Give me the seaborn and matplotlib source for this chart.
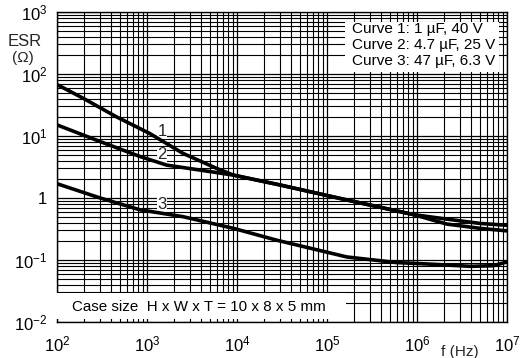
import numpy as np
import pandas as pd
import matplotlib
matplotlib.use("Agg")
import matplotlib.pyplot as plt
import seaborn as sns
from matplotlib.patches import Rectangle
from matplotlib.ticker import FixedLocator, FixedFormatter

# ---- data ----
f1 = [100, 195, 457, 1070, 2510, 5890, 9120, 30200, 166000, 912000, 2140000, 5010000, 1e7]
esr1 = [67.6, 40.7, 20.4, 11.0, 5.25, 3.02, 2.34, 1.62, 0.93, 0.54, 0.457, 0.389, 0.363]

f2 = [100, 302, 832, 1660, 3890, 9120, 30200, 166000, 912000, 2140000, 5010000, 1e7]
esr2 = [15.1, 8.13, 4.68, 3.39, 2.82, 2.34, 1.62, 0.93, 0.54, 0.38, 0.324, 0.295]

f3 = [100, 302, 832, 2510, 9120, 27500, 166000, 589000, 1580000, 3980000, 7080000, 1e7]
esr3 = [1.70, 1.0, 0.646, 0.50, 0.324, 0.209, 0.112, 0.091, 0.085, 0.079, 0.081, 0.093]

x_ticks = [1e2, 1e3, 1e4, 1e5, 1e6, 1e7]
x_ticklabels = ["$\\mathdefault{10^{2}}$", "$\\mathdefault{10^{3}}$", "$\\mathdefault{10^{4}}$",
                "$\\mathdefault{10^{5}}$", "$\\mathdefault{10^{6}}$", "$\\mathdefault{10^{7}}$"]
y_ticks = [1e-2, 1e-1, 1, 1e1, 1e2, 1e3]
y_ticklabels = ["$\\mathdefault{10^{-2}}$", "$\\mathdefault{10^{-1}}$", "1",
                "$\\mathdefault{10^{1}}$", "$\\mathdefault{10^{2}}$", "$\\mathdefault{10^{3}}$"]

curve_labels = ["1", "2", "3"]
legend_lines = ["Curve 1: 1 \u00b5F, 40 V", "Curve 2: 4.7 \u00b5F, 25 V", "Curve 3: 47 \u00b5F, 6.3 V"]
case_text = "Case size  H x W x T = 10 x 8 x 5 mm"

df = pd.concat([
    pd.DataFrame({"f": f1, "esr": esr1, "curve": "1"}),
    pd.DataFrame({"f": f2, "esr": esr2, "curve": "2"}),
    pd.DataFrame({"f": f3, "esr": esr3, "curve": "3"}),
])

sns.set_theme(style="white")
plt.rcParams["font.family"] = ["Liberation Sans", "DejaVu Sans"]

fig = plt.figure(figsize=(5.23, 3.58), dpi=100)
ax = fig.add_axes([57/523, 36/358, 450/523, 310/358])

sns.lineplot(data=df, x="f", y="esr", units="curve", estimator=None, sort=False,
             color="black", lw=2.6, ax=ax, zorder=6, legend=False)

ax.set_xscale("log")
ax.set_yscale("log")
ax.set_xlim(1e2, 1e7)
ax.set_ylim(1e-2, 1e3)
ax.set_xlabel("")
ax.set_ylabel("")
ax.xaxis.set_major_locator(FixedLocator(x_ticks))
ax.xaxis.set_major_formatter(FixedFormatter(x_ticklabels))
ax.yaxis.set_major_locator(FixedLocator(y_ticks))
ax.yaxis.set_major_formatter(FixedFormatter(y_ticklabels))

ax.set_axisbelow(True)
ax.minorticks_on()
ax.grid(which="major", color="black", lw=0.9)
ax.grid(which="minor", color="black", lw=0.8)
for s in ax.spines.values():
    s.set_color("black")
    s.set_linewidth(1.0)
ax.tick_params(which="both", length=0, labelsize=12, colors="black")
ax.tick_params(axis="x", pad=9)
ax.tick_params(axis="y", pad=7)
ax.tick_params(which="minor", labelbottom=False, labelleft=False)

# white boxes covering the grid
ax.add_patch(Rectangle((10**5.2, 10**2.03), 10**6.91 - 10**5.2, 10**2.84 - 10**2.03,
                       facecolor="white", edgecolor="none", zorder=3))
ax.add_patch(Rectangle((10**1.96, 0.0113), 10**5.21 - 10**1.96, 0.0296 - 0.0113,
                       facecolor="white", edgecolor="none", zorder=3, clip_on=False))

# legend text
for i, t in enumerate(legend_lines):
    ax.text(10**5.28, 10**(2.72 - i*0.255), t, fontsize=11, ha="left", va="center",
            color="black", zorder=5)
ax.text(10**2.17, 10**-1.755, case_text, fontsize=10.9, ha="left", va="center",
        color="black", zorder=5)

# curve numbers
lab_y = [10**1.07, 10**0.70, 10**-0.10]
for lab, yy in zip(curve_labels, lab_y):
    ax.text(10**3.17, yy, lab, fontsize=12, ha="center", va="center", zorder=5,
            bbox=dict(facecolor="white", edgecolor="none", pad=0.3))

fig.text(25/523, 1 - 42/358, "ESR", fontsize=12, ha="center", va="center")
fig.text(23/523, 1 - 58/358, "(\u03a9)", fontsize=11, ha="center", va="center")
fig.text(460/523, 1 - 352/358, "f (Hz)", fontsize=11, ha="center", va="center")

fig.savefig("out.png", dpi=100)
